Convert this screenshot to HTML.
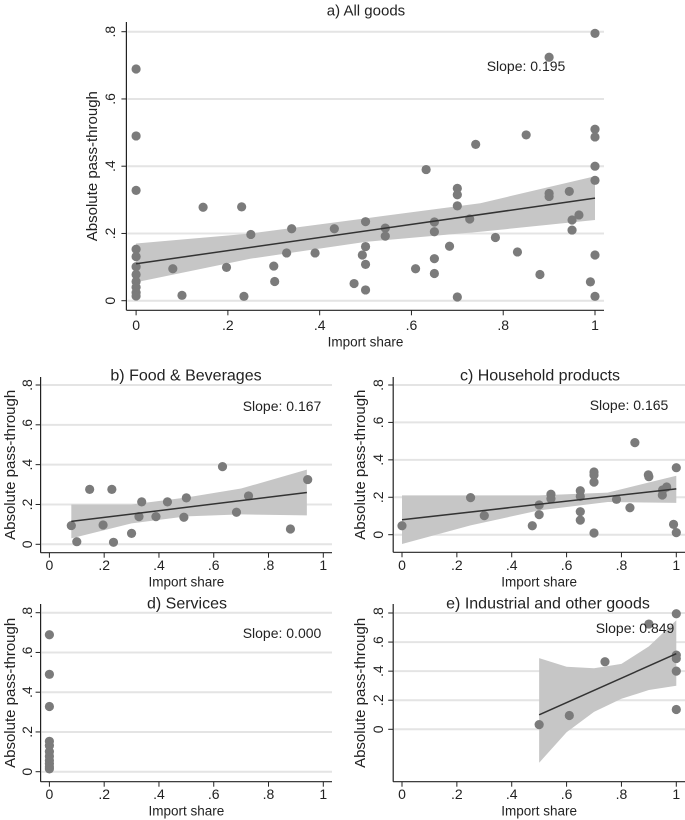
<!DOCTYPE html>
<html><head><meta charset="utf-8"><style>
html,body{margin:0;padding:0;background:#fff;}
svg{display:block;font-family:"Liberation Sans",Arial,sans-serif;}
</style></head><body>
<svg id="fig" width="685" height="820" viewBox="0 0 685 820" xmlns="http://www.w3.org/2000/svg"></svg>
<script>
// Panel a: All goods
const aX=[0,0,0,0,0,0,0,0,0,0,0,.08,.1,.146,.197,.23,.235,.25,.3,.302,.328,.339,.39,.432,.475,.493,.5,.5,.5,.5,.543,.543,.609,.632,.65,.65,.65,.65,.683,.7,.7,.7,.7,.727,.74,.783,.831,.85,.88,.9,.9,.9,.944,.95,.95,.965,.99,1,1,1,1,1,1,1];
const aY=[.689,.49,.328,.153,.131,.101,.078,.057,.040,.024,.014,.095,.016,.278,.099,.279,.013,.197,.103,.057,.142,.214,.142,.214,.051,.136,.235,.161,.108,.032,.216,.192,.095,.39,.234,.205,.125,.081,.162,.334,.315,.282,.011,.243,.465,.188,.145,.493,.078,.724,.319,.31,.325,.24,.21,.255,.056,.795,.51,.487,.4,.358,.136,.013];
const aFit=[.11,.305];
const aCiX=[0,.25,.5,.75,1];
const aCiLo=[.055,.125,.175,.205,.24];
const aCiHi=[.17,.2,.245,.29,.37];
// Panel b: Food & Beverages
const bX=[.08,.1,.147,.196,.228,.234,.3,.327,.337,.389,.431,.491,.5,.632,.683,.727,.88,.943];
const bY=[.094,.013,.276,.097,.276,.01,.055,.139,.213,.139,.213,.136,.233,.39,.161,.243,.077,.325];
const bFit=[.115,.26];
const bCiX=[.08,.3,.5,.7,.94];
const bCiLo=[.03,.105,.14,.15,.145];
const bCiHi=[.2,.2,.235,.28,.375];
// Panel c: Household products
const cX=[0,.25,.3,.475,.5,.5,.543,.543,.65,.65,.65,.65,.7,.7,.7,.7,.782,.831,.849,.898,.9,.949,.95,.965,.99,1,1];
const cY=[.048,.198,.102,.048,.159,.107,.216,.192,.235,.205,.123,.078,.335,.319,.281,.009,.189,.144,.492,.32,.31,.212,.239,.255,.055,.358,.011];
const cFit=[.08,.245];
const cCiX=[0,.25,.5,.75,1];
const cCiLo=[-.05,.05,.13,.175,.17];
const cCiHi=[.21,.21,.21,.225,.315];
// Panel d: Services
const dX=[0,0,0,0,0,0,0,0,0,0,0];
const dY=[.689,.49,.328,.153,.131,.101,.078,.057,.04,.024,.014];
// Panel e: Industrial and other goods
const eX=[.5,.61,.74,.9,1,1,1,1,1];
const eY=[.032,.095,.465,.724,.795,.51,.487,.4,.136];
const eFit=[.1,.52];
const eCiX=[.5,.6,.7,.8,.9,1];
const eCiLo=[-.23,-.02,.12,.21,.27,.3];
const eCiHi=[.49,.43,.42,.45,.57,.75];
const xTicks=[0,.2,.4,.6,.8,1];
const xTickLabels=["0",".2",".4",".6",".8","1"];
const yTicks=[0,.2,.4,.6,.8];
const yTickLabels=["0",".2",".4",".6",".8"];

const NS="http://www.w3.org/2000/svg";
const svg=document.getElementById('fig');
function mk(tag,attrs,parent){const e=document.createElementNS(NS,tag);for(const k in attrs)e.setAttribute(k,attrs[k]);(parent||svg).appendChild(e);return e;}

function panel(cfg){
  const g=mk('g',{});
  
  
  const sx=v=>cfg.x0+(cfg.x1-cfg.x0)*v;
  const sy=v=>cfg.y0+(cfg.y8-cfg.y0)*v/0.8;
  yTicks.forEach(t=>{
    const l=mk('line',{x1:cfg.left+1,x2:cfg.right,y1:sy(t),y2:sy(t),stroke:'#e4e4e4','stroke-width':2},g);
    
    
  });
  if(cfg.ciX){
    let pts=cfg.ciX.map((x,i)=>sx(x)+','+sy(cfg.ciHi[i]));
    pts=pts.concat(cfg.ciX.map((x,i)=>sx(x)+','+sy(cfg.ciLo[i])).reverse());
    const p=mk('polygon',{points:pts.join(' '),fill:'#c6c6c6'},g);
    
    
  }
  cfg.xs.forEach((x,i)=>{
    const c=mk('circle',{cx:sx(x),cy:sy(cfg.ys[i]),r:cfg.r,fill:'#7b7b7b'},g);
    
    
  });
  if(cfg.fit){
    const l=mk('line',{x1:sx(cfg.ciX[0]),y1:sy(cfg.fit[0]),x2:sx(cfg.ciX[cfg.ciX.length-1]),y2:sy(cfg.fit[1]),stroke:'#333','stroke-width':1.5},g);
    
    
  }
  const ya=mk('line',{x1:cfg.left,x2:cfg.left,y1:cfg.top,y2:cfg.bottom,stroke:'#222','stroke-width':1.2},g);
  
  
  const xa=mk('line',{x1:cfg.left,x2:cfg.right,y1:cfg.bottom,y2:cfg.bottom,stroke:'#222','stroke-width':1.2},g);
  
  
  yTicks.forEach((t,i)=>{
    mk('line',{x1:cfg.left-5,x2:cfg.left,y1:sy(t),y2:sy(t),stroke:'#222','stroke-width':1},g);
    const tx=mk('text',{x:cfg.tickX,y:sy(t),'font-size':14,fill:'#222','text-anchor':'middle',transform:`rotate(-90 ${cfg.tickX} ${sy(t)})`,dy:'0.35em'},g);
    tx.textContent=yTickLabels[i];
    
    
  });
  xTicks.forEach((t,i)=>{
    mk('line',{x1:sx(t),x2:sx(t),y1:cfg.bottom,y2:cfg.bottom+5,stroke:'#222','stroke-width':1},g);
    const tx=mk('text',{x:sx(t),y:cfg.xTickY,'font-size':14,fill:'#222','text-anchor':'middle',dy:'0.35em'},g);
    tx.textContent=xTickLabels[i];
    
    
  });
  const xt=mk('text',{x:(cfg.x0+cfg.x1)/2,y:cfg.xTitleY,'font-size':13.5,fill:'#222','text-anchor':'middle',dy:'0.35em'},g);
  xt.textContent='Import share';
  
  
  const ym=(cfg.top+cfg.bottom)/2;
  const yt=mk('text',{x:cfg.yTitleX,y:ym,'font-size':15,fill:'#222','text-anchor':'middle',dy:'0.35em',transform:`rotate(-90 ${cfg.yTitleX} ${ym})`},g);
  yt.textContent='Absolute pass-through';
  
  
  const tt=mk('text',{x:cfg.titleX,y:cfg.titleY,'font-size':cfg.titleSize||16,fill:'#222','text-anchor':'middle',dy:'0.35em'},g);
  tt.textContent=cfg.title;
  
  
  const st=mk('text',{x:cfg.slopeX,y:cfg.slopeY,'font-size':14,fill:'#222','text-anchor':'middle',dy:'0.35em'},g);
  st.textContent=cfg.slope;
  
  
}

panel({name:'panel-a-all-goods',title:'a) All goods',titleSize:15,slope:'Slope: 0.195',xs:aX,ys:aY,fit:aFit,ciX:aCiX,ciLo:aCiLo,ciHi:aCiHi,
  x0:136.1,x1:595,y0:300.7,y8:31.7,left:126.4,right:604,top:22,bottom:310.3,r:4.6,
  tickX:110,xTickY:325,xTitleY:342,yTitleX:92,titleX:366,titleY:10,slopeX:526,slopeY:66});
panel({name:'panel-b-food-beverages',title:'b) Food & Beverages',slope:'Slope: 0.167',xs:bX,ys:bY,fit:bFit,ciX:bCiX,ciLo:bCiLo,ciHi:bCiHi,
  x0:49.4,x1:323.3,y0:544.3,y8:385,left:40.6,right:332,top:377,bottom:552.7,r:4.6,
  tickX:27,xTickY:565,xTitleY:582,yTitleX:10,titleX:186,titleY:375,slopeX:282,slopeY:406});
panel({name:'panel-c-household-products',title:'c) Household products',slope:'Slope: 0.165',xs:cX,ys:cY,fit:cFit,ciX:cCiX,ciLo:cCiLo,ciHi:cCiHi,
  x0:402,x1:676.3,y0:534.7,y8:385,left:393.2,right:685,top:377,bottom:552.3,r:4.6,
  tickX:378,xTickY:565,xTitleY:582,yTitleX:360,titleX:540,titleY:375,slopeX:629,slopeY:405});
panel({name:'panel-d-services',title:'d) Services',slope:'Slope: 0.000',xs:dX,ys:dY,
  x0:49.4,x1:323.3,y0:771.7,y8:612.7,left:40.6,right:332,top:604,bottom:781.7,r:4.6,
  tickX:27,xTickY:794,xTitleY:811,yTitleX:10,titleX:187,titleY:603,slopeX:282,slopeY:633});
panel({name:'panel-e-industrial-goods',title:'e) Industrial and other goods',slope:'Slope: 0.849',xs:eX,ys:eY,fit:eFit,ciX:eCiX,ciLo:eCiLo,ciHi:eCiHi,
  x0:402,x1:676.3,y0:729.3,y8:613,left:393.2,right:685,top:604,bottom:781.7,r:4.6,
  tickX:378,xTickY:794,xTitleY:811,yTitleX:360,titleX:548,titleY:603,slopeX:635,slopeY:628});
</script>
</body></html>
